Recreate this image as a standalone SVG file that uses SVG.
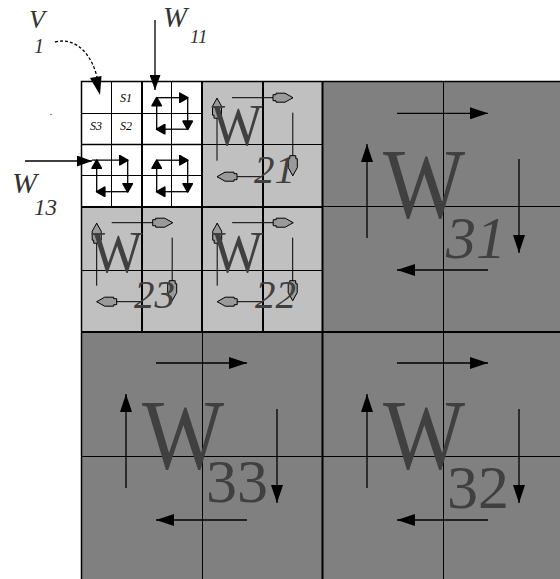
<svg xmlns="http://www.w3.org/2000/svg" width="560" height="579" viewBox="0 0 560 579">
<style>
.lbl{font-family:"Liberation Serif",serif;font-style:italic;fill:#333}
.big{font-family:"Liberation Serif",serif;font-style:italic;fill:#404040}
.up{font-family:"Liberation Serif",serif;fill:#404040}
.s{font-family:"Liberation Serif",serif;font-style:italic;fill:#000;font-size:12px;text-anchor:middle}
.thin{stroke:#000;stroke-width:1;fill:none}
.thick{stroke:#000;stroke-width:2;fill:none}
.a3{stroke:#000;stroke-width:1.3;fill:none;marker-end:url(#mBig)}
.a2{stroke:#000;stroke-width:1;fill:none;marker-end:url(#mHol)}
.a1{stroke:#000;stroke-width:1.3;fill:none;marker-end:url(#mSm)}
.am{stroke:#000;stroke-width:1.3;fill:none;marker-end:url(#mMed)}
</style>
<defs>
<marker id="mBig" markerUnits="userSpaceOnUse" viewBox="0 0 18 12" markerWidth="18" markerHeight="12" refX="18" refY="6" orient="auto"><path d="M0,0 L18,6 L0,12 Z" fill="#000"/></marker>
<marker id="mMed" markerUnits="userSpaceOnUse" viewBox="0 0 15 11" markerWidth="15" markerHeight="11" refX="15" refY="5.5" orient="auto"><path d="M0,0 L15,5.5 L0,11 Z" fill="#000"/></marker>
<marker id="mSm" markerUnits="userSpaceOnUse" viewBox="-1 -1 11 11" markerWidth="11" markerHeight="11" refX="8" refY="4.5" orient="auto"><path d="M0,0 L8,4.5 L0,9 Z" fill="#000" stroke="#000" stroke-width="1.8" stroke-linejoin="round"/></marker>
<marker id="mHol" markerUnits="userSpaceOnUse" viewBox="-1 -1 22 11" markerWidth="22" markerHeight="11" refX="20" refY="4.5" orient="auto"><path d="M0,1.5 H3 V0 H12 L20,4.5 L12,9 H3 V7.5 H0 Z" fill="#9a9a9a" stroke="#000" stroke-width="1"/></marker>
</defs>
<rect width="560" height="579" fill="#fff"/>

<g id="W11-block">
<rect x="81.5" y="81.5" width="120.5" height="125.5" fill="#fff"/>
</g>
<g id="W21"><rect x="202" y="81.5" width="120.5" height="125.5" fill="#c0c0c0"/></g>
<g id="W23"><rect x="81.5" y="207" width="120.5" height="125" fill="#c0c0c0"/></g>
<g id="W22"><rect x="202" y="207" width="120.5" height="125" fill="#c0c0c0"/></g>
<g id="W31"><rect x="322.5" y="81.5" width="240" height="250.5" fill="#808080"/></g>
<g id="W33"><rect x="81.5" y="332" width="241" height="250" fill="#808080"/></g>
<g id="W32"><rect x="322.5" y="332" width="240" height="250" fill="#808080"/></g>

<g id="grid">
<path class="thin" d="M111.5,81.5 V207 M171.5,81.5 V207 M81.5,113.5 H202 M81.5,175.5 H202 M202,144.5 H322.5 M81.5,270.5 H322.5 M443.5,81.5 V579 M322.5,206.5 H560 M202.5,332 V579 M81.5,456.5 H560"/>
<path stroke="#000" stroke-width="1.6" d="M81.5,144.5 H202"/>
<path stroke="#000" stroke-width="1.5" fill="none" d="M81.5,579 V81.5 H560"/>
<path class="thick" d="M142,81.5 V332 M202,81.5 V332 M263,81.5 V332 M322.5,81.5 V579 M81.5,207 H322.5 M81.5,332 H560"/>
</g>

<g id="V1">
<text class="s" x="126" y="102">S1</text>
<text class="s" x="96" y="130">S3</text>
<text class="s" x="126" y="130">S2</text>
</g>

<g id="loops-small">
<path class="a1" d="M156.7,129.2 V97.7"/><path class="a1" d="M156.7,97.7 H187.7"/><path class="a1" d="M187.7,97.7 V129.2"/><path class="a1" d="M187.7,129.2 H156.7"/>
<path class="a1" d="M96.7,191.7 V160.2"/><path class="a1" d="M92,160.2 H127.7"/><path class="a1" d="M127.7,160.2 V191.7"/><path class="a1" d="M127.7,191.7 H96.7"/>
<path class="a1" d="M156.7,191.7 V160.2"/><path class="a1" d="M156.7,160.2 H187.7"/><path class="a1" d="M187.7,160.2 V191.7"/><path class="a1" d="M187.7,191.7 H156.7"/>
</g>

<g id="loops-level2">
<path class="a2" d="M232,97.7 H293"/><path class="a2" d="M292.8,112.7 V175.7"/><path class="a2" d="M263,176.7 H217"/><path class="a2" d="M217,160.7 V98.2"/>
<path class="a2" d="M111.7,222.7 H172.7"/><path class="a2" d="M172.2,237.7 V300.7"/><path class="a2" d="M142.7,301.7 H96.7"/><path class="a2" d="M96.7,285.7 V223.2"/>
<path class="a2" d="M232.2,222.7 H293.2"/><path class="a2" d="M292.7,237.7 V300.7"/><path class="a2" d="M263.2,301.7 H217.2"/><path class="a2" d="M217.2,285.7 V223.2"/>
</g>

<g id="loops-level3">
<path class="a3" d="M397,113.3 H488"/><path class="a3" d="M519,159 V253"/><path class="a3" d="M488,270 H397"/><path class="a3" d="M367,238 V144"/>
<path class="a3" d="M156,363 H247"/><path class="a3" d="M277,409 V503"/><path class="a3" d="M247,520 H156"/><path class="a3" d="M126,488 V394"/>
<path class="a3" d="M397,363 H488"/><path class="a3" d="M519,409 V503"/><path class="a3" d="M488,520 H397"/><path class="a3" d="M367,488 V394"/>
</g>

<g id="labels-level2">
<text class="up" transform="translate(211.5,145) scale(0.9,1)" font-size="60">W</text><text class="big" x="254" y="183" font-size="41">21</text>
<text class="up" transform="translate(91.5,271.7) scale(0.9,1)" font-size="60">W</text><text class="big" x="134" y="308.3" font-size="41">23</text>
<text class="up" transform="translate(212,271.7) scale(0.9,1)" font-size="60">W</text><text class="big" x="255" y="308.3" font-size="41">22</text>
</g>
<g id="labels-level3">
<text class="up" transform="translate(383,216.7) scale(0.87,1)" font-size="100">W</text><text class="big" x="446" y="258" font-size="60">31</text>
<text class="up" transform="translate(142,468) scale(0.87,1)" font-size="100">W</text><text class="up" x="206" y="502" font-size="62">33</text>
<text class="up" transform="translate(383,468) scale(0.87,1)" font-size="100">W</text><text class="up" x="447" y="508" font-size="62">32</text>
</g>

<g id="connectors">
<path stroke="#000" stroke-width="1.3" fill="none" stroke-dasharray="3 2" d="M55,42 C78,36 94,58 98,82"/>
<path d="M90,78 L101.5,76 L100,95 Z" fill="#000"/>
<path class="am" d="M155,20 V90"/>
<path class="am" d="M25,161 H92"/>
</g>

<g id="outer-labels">
<text class="lbl" x="29" y="28" font-size="26">V</text><text class="lbl" x="34" y="53" font-size="20">1</text>
<text class="lbl" x="163" y="26.7" font-size="29">W</text><text class="lbl" x="190" y="43.3" font-size="19">11</text>
<text class="lbl" x="12" y="193" font-size="30">W</text><text class="lbl" x="34" y="215" font-size="23">13</text>
<circle cx="51" cy="114.5" r="0.8" fill="#666"/>
</g>
</svg>
